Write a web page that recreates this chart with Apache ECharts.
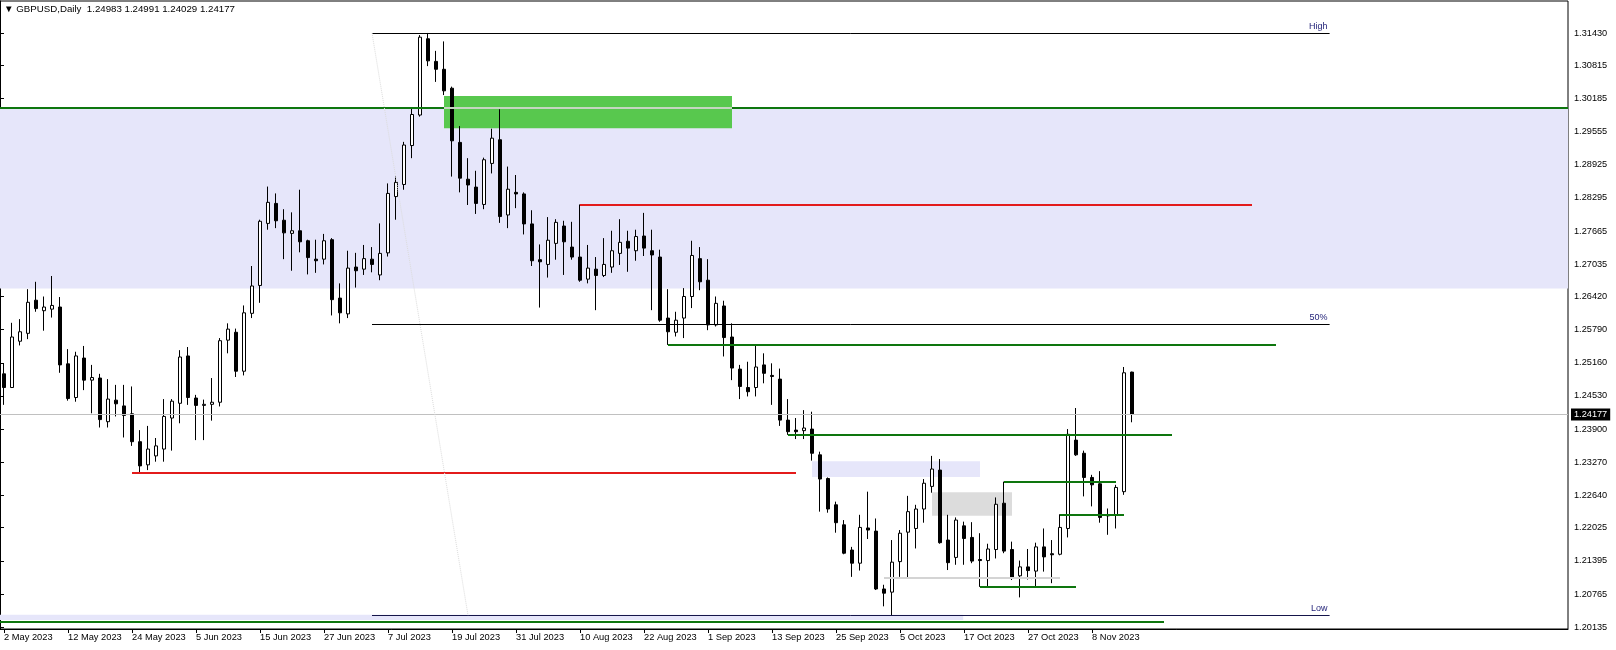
<!DOCTYPE html>
<html><head><meta charset="utf-8">
<script src="https://cdn.jsdelivr.net/npm/echarts@6/dist/echarts.min.js"></script>
<style>html,body{margin:0;padding:0;background:#fff}#c{width:1616px;height:650px}</style>
</head><body><div id="c"></div>
<script>
// ---------- data ----------
const dates = [
'2023-05-02','2023-05-03','2023-05-04','2023-05-05','2023-05-08','2023-05-09','2023-05-10','2023-05-11','2023-05-12','2023-05-15',
'2023-05-16','2023-05-17','2023-05-18','2023-05-19','2023-05-22','2023-05-23','2023-05-24','2023-05-25','2023-05-26','2023-05-29',
'2023-05-30','2023-05-31','2023-06-01','2023-06-02','2023-06-05','2023-06-06','2023-06-07','2023-06-08','2023-06-09','2023-06-12',
'2023-06-13','2023-06-14','2023-06-15','2023-06-16','2023-06-19','2023-06-20','2023-06-21','2023-06-22','2023-06-23','2023-06-26',
'2023-06-27','2023-06-28','2023-06-29','2023-06-30','2023-07-03','2023-07-04','2023-07-05','2023-07-06','2023-07-07','2023-07-10',
'2023-07-11','2023-07-12','2023-07-13','2023-07-14','2023-07-17','2023-07-18','2023-07-19','2023-07-20','2023-07-21','2023-07-24',
'2023-07-25','2023-07-26','2023-07-27','2023-07-28','2023-07-31','2023-08-01','2023-08-02','2023-08-03','2023-08-04','2023-08-07',
'2023-08-08','2023-08-09','2023-08-10','2023-08-11','2023-08-14','2023-08-15','2023-08-16','2023-08-17','2023-08-18','2023-08-21',
'2023-08-22','2023-08-23','2023-08-24','2023-08-25','2023-08-28','2023-08-29','2023-08-30','2023-08-31','2023-09-01','2023-09-04',
'2023-09-05','2023-09-06','2023-09-07','2023-09-08','2023-09-11','2023-09-12','2023-09-13','2023-09-14','2023-09-15','2023-09-18',
'2023-09-19','2023-09-20','2023-09-21','2023-09-22','2023-09-25','2023-09-26','2023-09-27','2023-09-28','2023-09-29','2023-10-02',
'2023-10-03','2023-10-04','2023-10-05','2023-10-06','2023-10-09','2023-10-10','2023-10-11','2023-10-12','2023-10-13','2023-10-16',
'2023-10-17','2023-10-18','2023-10-19','2023-10-20','2023-10-23','2023-10-24','2023-10-25','2023-10-26','2023-10-27','2023-10-30',
'2023-10-31','2023-11-01','2023-11-02','2023-11-03','2023-11-06','2023-11-07','2023-11-08','2023-11-09','2023-11-10','2023-11-13',
'2023-11-14','2023-11-15'];

const open = [
1.2495,1.2469,1.2557,1.2572,1.2635,1.2615,1.2618,1.2622,1.2514,1.2450,
1.2525,1.2483,1.2487,1.2404,1.2445,1.2434,1.2419,1.2366,1.2322,1.2339,
1.2352,1.2411,1.2439,1.2529,1.2449,1.2435,1.2437,1.2441,1.2559,1.2574,
1.2500,1.2610,1.2663,1.2781,1.2819,1.2787,1.2762,1.2767,1.2748,1.2713,
1.2713,1.2750,1.2639,1.2609,1.2698,1.2694,1.2713,1.2683,1.2725,1.2832,
1.2855,1.2929,1.2987,1.3132,1.3089,1.3074,1.3038,1.2935,1.2865,1.2850,
1.2817,1.2895,1.2940,1.2797,1.2840,1.2837,1.2780,1.2712,1.2703,1.2743,
1.2776,1.2736,1.2717,1.2675,1.2694,1.2682,1.2698,1.2724,1.2747,1.2729,
1.2757,1.2729,1.2717,1.2601,1.2574,1.2601,1.2642,1.2714,1.2673,1.2588,
1.2624,1.2565,1.2504,1.2469,1.2469,1.2512,1.2492,1.2485,1.2407,1.2388,
1.2387,1.2390,1.2341,1.2296,1.2246,1.2208,1.2160,1.2135,1.2202,1.2196,
1.2086,1.2080,1.2138,1.2194,1.2201,1.2238,1.2281,1.2312,1.2179,1.2146,
1.2206,1.2184,1.2142,1.2140,1.2161,1.2249,1.2161,1.2111,1.2128,1.2120,
1.2166,1.2153,1.2152,1.2201,1.2369,1.2344,1.2298,1.2286,1.2226,1.2227,
1.2271,1.24983];
const high = [
1.2515,1.2592,1.2599,1.2656,1.2670,1.2642,1.2681,1.2641,1.2542,1.2537,
1.2548,1.2512,1.2495,1.2485,1.2474,1.2474,1.2471,1.2388,1.2396,1.2373,
1.2447,1.2447,1.2540,1.2546,1.2455,1.2446,1.2487,1.2563,1.2591,1.2581,
1.2625,1.2700,1.2788,1.2851,1.2838,1.2808,1.2802,1.2845,1.2750,1.2750,
1.2761,1.2753,1.2667,1.2729,1.2725,1.2740,1.2736,1.2781,1.2857,1.2870,
1.2936,1.3002,1.3139,1.3143,1.3109,1.3127,1.3041,1.2966,1.2905,1.2881,
1.2906,1.2961,1.2998,1.2889,1.2873,1.2840,1.2806,1.2741,1.2793,1.2789,
1.2786,1.2784,1.2817,1.2740,1.2717,1.2753,1.2767,1.2789,1.2767,1.2769,
1.2801,1.2769,1.2731,1.2656,1.2613,1.2658,1.2748,1.2736,1.2713,1.2642,
1.2634,1.2591,1.2512,1.2518,1.2550,1.2534,1.2515,1.2505,1.2447,1.2411,
1.2426,1.2423,1.2347,1.2298,1.2252,1.2217,1.2166,1.2227,1.2271,1.2220,
1.2094,1.2179,1.2198,1.2263,1.2246,1.2295,1.2339,1.2333,1.2227,1.2222,
1.2214,1.2213,1.2192,1.2172,1.2260,1.2290,1.2176,1.2140,1.2162,1.2174,
1.2201,1.2179,1.2228,1.2390,1.2430,1.2349,1.2303,1.2310,1.2239,1.2284,
1.2508,1.24991];
const low = [
1.2436,1.2468,1.2549,1.2561,1.2613,1.2577,1.2602,1.2497,1.2444,1.2442,
1.2464,1.2420,1.2393,1.2393,1.2414,1.2374,1.2358,1.2307,1.2312,1.2328,
1.2328,1.2349,1.2401,1.2436,1.2369,1.2369,1.2406,1.2433,1.2534,1.2489,
1.2492,1.2601,1.2630,1.2769,1.2772,1.2713,1.2691,1.2726,1.2684,1.2687,
1.2703,1.2606,1.2591,1.2601,1.2659,1.2683,1.2688,1.2673,1.2718,1.2788,
1.2845,1.2905,1.2984,1.3080,1.3050,1.3025,1.2870,1.2840,1.2816,1.2799,
1.2808,1.2876,1.2782,1.2772,1.2810,1.2760,1.2700,1.2621,1.2678,1.2712,
1.2683,1.2712,1.2670,1.2667,1.2616,1.2679,1.2687,1.2702,1.2689,1.2710,
1.2719,1.2616,1.2594,1.2550,1.2566,1.2563,1.2620,1.2654,1.2578,1.2585,
1.2528,1.2483,1.2447,1.2452,1.2452,1.2477,1.2436,1.2396,1.2379,1.2371,
1.2371,1.2330,1.2233,1.2231,1.2193,1.2152,1.2109,1.2121,1.2181,1.2084,
1.2053,1.2036,1.2109,1.2106,1.2163,1.2212,1.2269,1.2172,1.2122,1.2132,
1.2132,1.2135,1.2090,1.2090,1.2144,1.2154,1.2103,1.2070,1.2104,1.2090,
1.2119,1.2097,1.2150,1.2184,1.2339,1.2262,1.2243,1.2212,1.2189,1.2201,
1.2265,1.24029];
const close = [
1.2469,1.2565,1.2575,1.2631,1.2619,1.2622,1.2625,1.2512,1.2448,1.2529,
1.2483,1.2488,1.2408,1.2447,1.2438,1.2416,1.2366,1.2320,1.2352,1.2358,
1.2414,1.2443,1.2527,1.2450,1.2435,1.2437,1.2441,1.2558,1.2580,1.2500,
1.2611,1.2662,1.2785,1.2821,1.2786,1.2763,1.2767,1.2746,1.2716,1.2710,
1.2748,1.2636,1.2611,1.2696,1.2691,1.2714,1.2703,1.2724,1.2838,1.2859,
1.2930,1.2988,1.3135,1.3090,1.3074,1.3033,1.2938,1.2867,1.2854,1.2819,
1.2902,1.2943,1.2794,1.2846,1.2837,1.2780,1.2710,1.2708,1.2749,1.2783,
1.2746,1.2717,1.2673,1.2696,1.2682,1.2703,1.2729,1.2745,1.2734,1.2756,
1.2734,1.2721,1.2597,1.2575,1.2597,1.2642,1.2720,1.2670,1.2588,1.2629,
1.2564,1.2506,1.2471,1.2461,1.2508,1.2496,1.2490,1.2407,1.2385,1.2385,
1.2392,1.2344,1.2295,1.2238,1.2212,1.2154,1.2135,1.2203,1.2198,1.2086,
1.2078,1.2137,1.2192,1.2233,1.2238,1.2287,1.2314,1.2174,1.2136,1.2217,
1.2182,1.2139,1.2140,1.2162,1.2247,1.2158,1.2106,1.2128,1.2121,1.2166,
1.2147,1.2151,1.2203,1.2380,1.2341,1.2298,1.2284,1.2222,1.2225,1.2279,
1.2497,1.24177];

const xTickDates = ['2023-05-02','2023-05-12','2023-05-24','2023-06-05','2023-06-15','2023-06-27','2023-07-07','2023-07-19','2023-07-31',
  '2023-08-10','2023-08-22','2023-09-01','2023-09-13','2023-09-25','2023-10-05','2023-10-17','2023-10-27','2023-11-08'];
const xTickLabels = ['2 May 2023','12 May 2023','24 May 2023','5 Jun 2023','15 Jun 2023','27 Jun 2023','7 Jul 2023','19 Jul 2023','31 Jul 2023',
  '10 Aug 2023','22 Aug 2023','1 Sep 2023','13 Sep 2023','25 Sep 2023','5 Oct 2023','17 Oct 2023','27 Oct 2023','8 Nov 2023'];
const yTickValues = [1.31430,1.30815,1.30185,1.29555,1.28925,1.28295,1.27665,1.27035,1.26420,1.25790,
  1.25160,1.24530,1.23900,1.23270,1.22640,1.22025,1.21395,1.20765,1.20135];

const titleText = '\u25BC GBPUSD,Daily  1.24983 1.24991 1.24029 1.24177';
const lastPrice = 1.24177;
const futureSlots = 54;           // empty space to the right of the last bar
const priceMin = 1.20099, priceMax = 1.32038;

// annotation objects (bar-index units, prices)
const zoneFrom  = [-0.5, -0.5, 101, 116, 55];
const zoneTo    = [195.5, 119.9, 122, 126, 91];
const zoneLow   = [1.2657, 1.2027, 1.2299, 1.2225, 1.2962];
const zoneHigh  = [1.3001, 1.2037, 1.2329, 1.2270, 1.3023];
const zoneKind  = ['lavender','lavender','lavender','gray','green'];

const lineFrom  = [-0.5, 55, 72, 83, 98, 16, 125, 132, 122, 110, -0.5];
const lineTo    = [195.5, 91, 156, 159, 146, 99, 139, 140, 134, 132, 145];
const linePrice = [1.3001, 1.3001, 1.2817, 1.2550, 1.2379, 1.2307, 1.2290, 1.2228, 1.2090, 1.2107, 1.2023];
const lineKind  = ['green','pale','red','green','green','red','green','green','green','silver','green'];

const fibNames  = ['High','50%','Low'];
const fibPrices = [1.3143, 1.25895, 1.2036];
const fibFrom = 46, fibTo = 165.7;
const fibDiagonal = [[46, 1.3143], [58, 1.2036]];

// ---------- styles ----------
const FONT = 'Liberation Sans, Arial, sans-serif';
const zoneColor = {lavender:'#e6e6fa', gray:'#dcdcdc', green:'#58c84e'};
const lineStyleOf = {
  green:{color:'#0e760e', width:2},
  red:{color:'#e31b1b', width:2},
  silver:{color:'#d4d4d4', width:2},
  pale:{color:'#c4d6c0', width:2}
};
const bx = b => b + 0.5;

const categories = dates.concat(Array.from({length: futureSlots}, (_, k) => 'f' + k));
const tickMap = {};
xTickDates.forEach((d, k) => { tickMap[d] = xTickLabels[k]; });
const candleData = dates.map((d, i) => [open[i], close[i], low[i], high[i]]);

const areaData = zoneFrom.map((f, k) => [
  {xAxis: bx(f), yAxis: zoneHigh[k], itemStyle: {color: zoneColor[zoneKind[k]], opacity: 1}},
  {xAxis: bx(zoneTo[k]), yAxis: zoneLow[k]}
]);

const lineData = lineFrom.map((f, k) => [
  {coord: [bx(f), linePrice[k]], lineStyle: Object.assign({type:'solid'}, lineStyleOf[lineKind[k]])},
  {coord: [bx(lineTo[k]), linePrice[k]]}
]);
fibNames.forEach((n, k) => {
  lineData.push([
    {coord: [bx(fibFrom), fibPrices[k]],
     lineStyle: {color: k === 2 ? '#15154a' : '#000', width: 1, type: 'solid'},
     label: {show: true, position: 'insideEndTop', formatter: n, color: '#25257a', fontSize: 9, fontFamily: FONT, distance: 2}},
    {coord: [bx(fibTo), fibPrices[k]]}
  ]);
});
lineData.push([
  {coord: [bx(fibDiagonal[0][0]), fibDiagonal[0][1]], lineStyle: {color: '#dcdcdc', width: 1, type: 'dotted'}},
  {coord: [bx(fibDiagonal[1][0]), fibDiagonal[1][1]]}
]);

const chart = echarts.init(document.getElementById('c'), null, {renderer: 'canvas'});
chart.setOption({
  animation: false,
  backgroundColor: '#fff',
  graphic: [{type: 'text', left: 4, top: 4, z: 100,
    style: {text: titleText, font: '9.7px ' + FONT, fill: '#000'}}],
  grid: {left: 0, right: 48, top: 1, bottom: 21, show: true, borderColor: '#000', borderWidth: 1, backgroundColor: '#fff'},
  xAxis: [
    {type: 'category', data: categories, boundaryGap: true,
     axisLine: {show: true, lineStyle: {color: '#000'}},
     axisTick: {show: true, alignWithLabel: true, length: 4, lineStyle: {color: '#000'},
                interval: (idx, v) => tickMap[v] !== undefined},
     axisLabel: {interval: 0, align: 'left', margin: 4, color: '#000', fontSize: 9.3, fontFamily: FONT,
                 formatter: v => tickMap[v] || ''},
     splitLine: {show: false}},
    {type: 'value', min: 0, max: categories.length, show: false}
  ],
  yAxis: [{type: 'value', position: 'right', min: priceMin, max: priceMax, scale: true,
    splitLine: {show: false},
    axisLine: {show: true, lineStyle: {color: '#000'}},
    axisTick: {show: true, length: 4, customValues: yTickValues, lineStyle: {color: '#000'}},
    axisLabel: {customValues: yTickValues, formatter: v => v.toFixed(5), color: '#000', fontSize: 9.2, fontFamily: FONT, margin: 6}
  }],
  series: [
    {type: 'line', name: 'zones', xAxisIndex: 1, yAxisIndex: 0, z: 1, data: [[0, lastPrice]], showSymbol: false,
     lineStyle: {width: 0}, silent: true, clip: false,
     markArea: {silent: true, data: areaData},
     markLine: {silent: true, symbol: 'none', animation: false, precision: 5,
       data: [{yAxis: lastPrice, lineStyle: {color: '#c0c0c0', width: 1, type: 'solid'},
               label: {show: true, position: 'end', formatter: lastPrice.toFixed(5), backgroundColor: '#000', color: '#fff',
                       padding: [2, 3, 1, 3], fontSize: 9.2, fontFamily: FONT, distance: 3}}]}},
    {type: 'candlestick', name: 'GBPUSD', xAxisIndex: 0, yAxisIndex: 0, z: 2, barWidth: 4, silent: true,
     itemStyle: {color: '#fff', color0: '#000', borderColor: '#000', borderColor0: '#000', borderColorDoji: '#000', borderWidth: 1},
     data: candleData},
    {type: 'line', name: 'levels', xAxisIndex: 1, yAxisIndex: 0, z: 3, data: [[0, lastPrice]], showSymbol: false,
     lineStyle: {width: 0}, silent: true, clip: false,
     markLine: {silent: true, symbol: 'none', animation: false, precision: 5, label: {show: false}, data: lineData}}
  ]
});
</script></body></html>
